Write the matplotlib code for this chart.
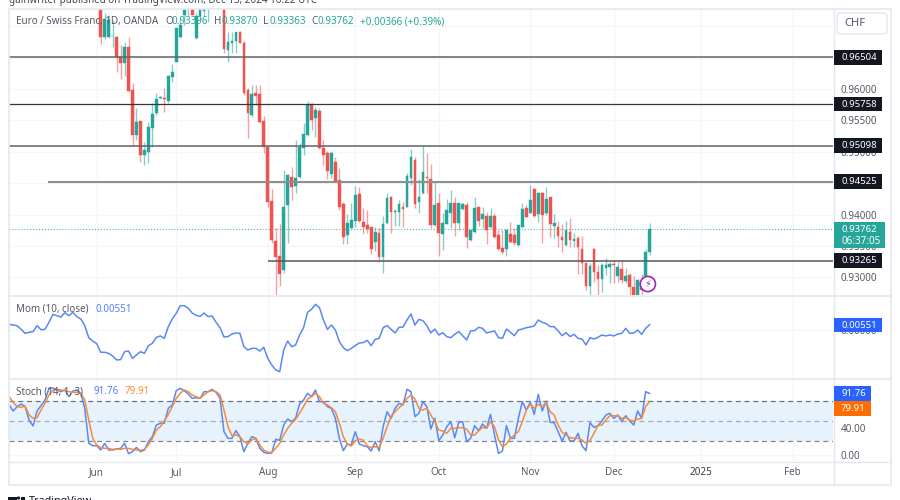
import numpy as np
import matplotlib
matplotlib.use("Agg")
import matplotlib.pyplot as plt
from matplotlib.patches import Rectangle, FancyBboxPatch, Circle

plt.rcParams['font.family'] = ['Noto Sans', 'DejaVu Sans']

opens = [.9740,.9683,.9683,.9684,.9683,.9651,.9641,.9667,.9598,.9527,
         .9549,.9495,.9500,.9538,.9562,.9586,.9586,.9581,.9619,.9643,
         .9683,.9718,.9730,.9732,.9681,.9716,.9725,.9730,.9750,.9755,
         .9750,.9745,.9662,.9673,.9676,.9691,.9673,.9598,.9559,.9594,
         .9592,.9549,.9508,.9422,.9358,.9334,.9312,.9415,.9460,.9445,
         .9460,.9506,.9527,.9576,.9554,.9565,.9506,.9498,.9465,.9484,
         .9455,.9417,.9367,.9378,.9390,.9433,.9388,.9383,.9380,.9356,
         .9370,.9332,.9386,.9428,.9404,.9404,.9412,.9412,.9458,.9487,
         .9420,.9434,.9460,.9457,.9383,.9418,.9369,.9385,.9402,.9418,
         .9386,.9409,.9415,.9359,.9372,.9412,.9393,.9398,.9380,.9398,
         .9367,.9347,.9345,.9369,.9367,.9351,.9380,.9410,.9402,.9441,
         .9401,.9434,.9402,.9428,.9382,.9380,.9364,.9351,.9372,.9358,
         .9363,.9345,.9323,.9286,.9345,.9309,.9297,.9315,.9316,.9321,
         .9302,.9313,.9294,.9304,.9285,.9272,.9291,.9302,.93396]
highs = [.9750,.9721,.9718,.9710,.9685,.9670,.9675,.9683,.9610,.9570,
         .9549,.9516,.9547,.9578,.9594,.9589,.9602,.9622,.9640,.9697,
         .9710,.9735,.9745,.9745,.9721,.9740,.9740,.9745,.9760,.9765,
         .9760,.9750,.9691,.9691,.9691,.9693,.9676,.9602,.9606,.9606,
         .9606,.9557,.9509,.9441,.9378,.9385,.9471,.9465,.9476,.9519,
         .9514,.9546,.9581,.9578,.9571,.9570,.9519,.9501,.9501,.9492,
         .9474,.9420,.9401,.9418,.9445,.9444,.9410,.9407,.9380,.9380,
         .9378,.9398,.9434,.9430,.9409,.9423,.9420,.9466,.9504,.9492,
         .9457,.9509,.9498,.9480,.9452,.9434,.9402,.9425,.9439,.9428,
         .9418,.9418,.9420,.9375,.9428,.9412,.9412,.9404,.9410,.9402,
         .9375,.9375,.9375,.9388,.9378,.9383,.9418,.9415,.9447,.9442,
         .9436,.9436,.9444,.9428,.9401,.9390,.9385,.9390,.9394,.9370,
         .9366,.9366,.9323,.9323,.9347,.9320,.9323,.9331,.9324,.9328,
         .9324,.9326,.9315,.9307,.9302,.9297,.9305,.9345,.93870]
lows = [.9672,.9680,.9681,.9667,.9627,.9616,.9621,.9595,.9509,.9519,
        .9484,.9479,.9482,.9508,.9559,.9584,.9563,.9578,.9611,.9643,
        .9681,.9702,.9718,.9718,.9680,.9710,.9716,.9707,.9740,.9745,
        .9735,.9657,.9643,.9657,.9657,.9673,.9590,.9522,.9555,.9575,
        .9546,.9498,.9412,.9355,.9272,.9286,.9307,.9355,.9423,.9434,
        .9458,.9495,.9525,.9535,.9523,.9504,.9479,.9457,.9458,.9452,
        .9407,.9353,.9353,.9378,.9380,.9388,.9369,.9370,.9337,.9342,
        .9324,.9307,.9385,.9370,.9382,.9382,.9380,.9412,.9447,.9410,
        .9402,.9433,.9434,.9378,.9382,.9334,.9343,.9385,.9378,.9366,
        .9375,.9407,.9347,.9358,.9370,.9382,.9378,.9353,.9378,.9363,
        .9343,.9337,.9334,.9355,.9351,.9350,.9380,.9396,.9402,.9396,
        .9388,.9355,.9399,.9364,.9363,.9348,.9340,.9350,.9348,.9348,
        .9305,.9305,.9280,.9272,.9293,.9272,.9277,.9304,.9291,.9291,
        .9293,.9291,.9291,.9272,.9270,.9270,.9270,.9300,.93363]
closes = [.9683,.9711,.9710,.9685,.9651,.9641,.9667,.9597,.9527,.9547,
          .9495,.9503,.9539,.9560,.9584,.9587,.9584,.9621,.9627,.9697,
          .9702,.9726,.9740,.9718,.9716,.9735,.9735,.9740,.9755,.9750,
          .9745,.9664,.9675,.9676,.9691,.9673,.9594,.9562,.9592,.9589,
          .9547,.9508,.9420,.9359,.9332,.9305,.9412,.9463,.9444,.9458,
          .9508,.9528,.9575,.9551,.9567,.9506,.9495,.9469,.9498,.9453,
          .9412,.9364,.9386,.9391,.9431,.9390,.9380,.9377,.9345,.9372,
          .9332,.9385,.9426,.9404,.9405,.9417,.9409,.9461,.9492,.9417,
          .9428,.9468,.9458,.9383,.9415,.9370,.9386,.9407,.9418,.9386,
          .9418,.9417,.9364,.9375,.9410,.9390,.9401,.9375,.9398,.9364,
          .9345,.9340,.9375,.9356,.9355,.9383,.9409,.9396,.9423,.9398,
          .9434,.9399,.9425,.9385,.9386,.9366,.9359,.9375,.9359,.9361,
          .9348,.9323,.9286,.9318,.9309,.9297,.9320,.9320,.9321,.9320,
          .9316,.9296,.9302,.9285,.9272,.9296,.9280,.9340,.93762]

mom = [.0059,.0052,.0045,.0007,-.0035,-.0024,-.0017,.0045,.0003,.0007,.0080,.0163,.0149,.0135,.0180,.0149,.0184,.0139,.0115,.0045,-.0080,-.0115,-.0142,
       -.0232,-.0232,-.0243,-.0271,-.0312,-.0309,-.0226,-.0219,-.0295,-.0260,-.0226,-.0243,-.0163,-.0139,-.0076,-.0062,-.0087,.0035,.0115,.0174,.0253,.0253,
       .0226,.0177,.0153,.0142,.0177,.0139,.0146,.0080,.0024,-.0073,-.0069,-.0042,-.0031,-.0035,-.0174,-.0208,-.0191,-.0191,-.0219,-.0180,-.0295,-.0364,-.0416,-.0434,
       -.0208,-.0115,-.0174,-.0156,-.0052,.0024,.0184,.0215,.0267,.0232,.0104,.0007,.0052,0,-.0121,-.0184,-.0215,-.0191,-.0163,-.0135,-.0132,-.0108,-.0163,-.0097,-.0087,
       .0024,.0045,.0007,-.0031,.0028,.0031,.0104,.0167,.0052,.0111,.0097,.0045,-.0031,.0010,-.0052,-.0028,-.0069,
       -.0080,-.0045,-.0017,-.0059,-.0104,-.0010,-.0007,.0028,.0017,-.0031,-.0021,-.0010,-.0080,-.0087,.0010,-.0024,-.0059,0,.0010,.0024,.0031,.0042,.0104,.0080,.0066,
       .0035,.0035,-.0010,-.0059,-.0028,-.0069,-.0045,-.0087,-.0094,-.0156,-.0080,-.0094,-.0076,-.0052,-.0062,-.0052,-.0062,-.0042,-.0035,.0017,-.0035,-.0031,0,-.0045,.0017,.00551]

stoch_k = [74.5,65.5,72,76,72,52,43,65.5,73.5,82,99.5,100,97,94.5,97,87,95.5,97,92,69.5,17,13.5,13.5,
           7,17,7,7,8.5,9.5,17,1.5,4.5,11,4.5,7,19.5,27,44.5,47,47,69.5,74.5,96,99.5,96,91,84.5,85.5,84.5,94.5,94.5,98,93.5,84.5,
           34.5,24.5,24.5,36,27,4.5,17,27,24.5,9.5,3.5,2,2.5,23,21.5,44.5,53.5,49.5,54.5,76,82,92,87,97,79.5,79.5,72,69.5,54.5,24.5,
           6,16,14.5,34.5,16,13.5,12,5.5,19.5,5.5,42,64.5,54.5,69.5,77,74.5,98,94.5,57,62,79.5,72,38.5,54.5,21,29.5,42,
           49.5,25.5,48.5,49.5,19.5,24.5,43.5,36,46,39.5,60.5,29.5,2,5.5,43.5,24.5,24.5,54.5,79.5,67,78.5,60.5,90.5,65.5,80.5,48.5,48,
           34.5,20.5,33.5,20.5,20.5,32,13.5,6,48,41,43.5,50.5,59.5,62,54.5,59.5,49.5,58.5,50.5,44.5,65.5,54.5,94.5,91.76]
stoch_d = [87,78.5,72,71,73,59.5,54.5,55.5,67,77,89.5,97,98,97,96,94.5,93.5,93.5,92,82,52,24.5,14.5,
           10.5,9.5,9.5,8,8.5,8,9.5,9.5,8,7,6.5,8,14.5,24.5,37,42,50.5,60.5,72,84.5,92,97,94.5,89.5,87,84.5,89.5,94.5,96,94.5,89.5,
           67,42,28.5,29.5,27,19.5,16,22,24.5,14.5,7,3.5,3.5,9.5,17,29.5,39.5,47,53,62,72,83.5,87,92,87,77,74.5,70.5,64.5,47,
           27,16,13,21,23.5,22,13.5,10.5,12,10.5,24.5,42,57,64.5,70.5,75.5,84.5,89.5,83.5,69.5,67,69.5,59.5,49.5,37,35.5,32,
           39.5,39.5,40.5,40.5,38.5,29.5,29.5,35.5,41,39.5,49.5,42,22,12,16,24.5,29.5,34.5,49.5,67,75.5,69.5,75.5,72,78.5,64.5,59.5,
           44.5,33.5,29.5,25.5,24.5,24.5,22,17,21,32,43.5,44.5,52,58.5,58.5,58.5,54.5,56,52,50.5,53.5,54.5,72,79.91]

levels = [0.96504, 0.95758, 0.95098, 0.94525, 0.93265]
level_start = [-22.05, -22.05, -22.05, -12.2, 43]
level_color = ['#5f6268', '#33353f', '#5f6268', '#8f9094', '#55575e']
level_width = [1.1, 0.9, 1.1, 1.5, 1.1]
price_ticks = [0.970, 0.965, 0.960, 0.955, 0.950, 0.945, 0.940, 0.935, 0.930]
month_bars = [0, 20, 43, 65, 86, 109, 130, 152, 175]
month_labels = ['Jun', 'Jul', 'Aug', 'Sep', 'Oct', 'Nov', 'Dec', '2025', 'Feb']

GREEN = '#26a69a'
RED = '#ef5350'
BLUE = '#5b87f5'
ORANGE = '#f58b3c'
GRID = '#f3f5f9'
BORDER = '#e4e7f0'
TXT = '#555863'
FS = 7.1

W, H = 900, 500
fig = plt.figure(figsize=(9, 5), dpi=100, facecolor='white')


def pane(top, bottom):
    ax = fig.add_axes([9 / W, 1 - bottom / H, 824 / W, (bottom - top) / H])
    ax.set_xlim(-22.05, 185.1)
    ax.set_xticks(month_bars)
    ax.grid(True, color=GRID, lw=1)
    ax.set_axisbelow(True)
    ax.tick_params(length=0, labelbottom=False, left=False, labelleft=False)
    for s in ax.spines.values():
        s.set_visible(False)
    return ax


ax_p = pane(9, 295)
ax_m = pane(296, 378)
ax_s = pane(380, 461)

# candles
bars = np.arange(1, 140)
o, h, l, c = map(np.array, (opens, highs, lows, closes))
up = c >= o
colors = np.where(up, GREEN, RED)
ax_p.vlines(bars, l, h, colors=list(colors), lw=1, alpha=0.55, zorder=3)
ax_p.bar(bars, np.abs(c - o), bottom=np.minimum(o, c), width=0.68, color=list(colors),
         edgecolor=list(colors), lw=0.3, zorder=4)
for lv, st, col, lw in zip(levels, level_start, level_color, level_width):
    ax_p.hlines(lv, st, 185.1, color=col, lw=lw, zorder=5)
ax_p.axhline(c[-1], color=GREEN, ls=':', lw=0.8, alpha=0.8, zorder=2)
ax_p.set_ylim(0.92718, 0.97275)
ax_p.yaxis.tick_right()
ax_p.set_yticks(price_ticks)
ax_p.set_yticklabels(['%.5f' % t for t in price_ticks], fontsize=FS, color=TXT)
ax_p.tick_params(axis='y', right=False, labelright=True, pad=5.5)

# momentum
ax_m.plot(np.arange(-22, 140), mom, color=BLUE, lw=1.1)
ax_m.set_ylim(-0.050, 0.0354)
ax_m.yaxis.tick_right()
ax_m.set_yticks([0])
ax_m.set_yticklabels(['0.00000'], fontsize=FS, color=TXT)
ax_m.tick_params(axis='y', right=False, labelright=True, pad=5.5)

# stochastic
ax_s.axhspan(20, 80, color='#e7f3fc', lw=0, zorder=1)
ax_s.axhline(80, color='#6e7078', ls=(0, (4, 3)), lw=0.9, zorder=2)
ax_s.axhline(50, color='#a8aab0', ls=(0, (4, 3)), lw=0.9, zorder=2)
ax_s.axhline(20, color='#85878e', ls=(0, (4, 3)), lw=0.9, zorder=2)
ax_s.plot(np.arange(-22, 140), stoch_k, color=BLUE, lw=1.1, zorder=3)
ax_s.plot(np.arange(-22, 140), stoch_d, color=ORANGE, lw=1.1, zorder=4)
ax_s.set_ylim(-9.5, 112)
ax_s.yaxis.tick_right()
ax_s.set_yticks([0, 40])
ax_s.set_yticklabels(['0.00', '40.00'], fontsize=FS, color=TXT)
ax_s.tick_params(axis='y', right=False, labelright=True, pad=5.5)
ax_s.set_xticklabels(month_labels, fontsize=FS, color=TXT)
ax_s.tick_params(axis='x', labelbottom=True, pad=4.5)
ax_s.get_xticklabels()[7].set_fontweight('bold')
ax_s.get_xticklabels()[7].set_color('#3a3d46')

# overlay in image pixels for the chrome around the panes
ov = fig.add_axes([0, 0, 1, 1], zorder=20, facecolor='none')
ov.set_xlim(0, W)
ov.set_ylim(H, 0)
ov.axis('off')


def ypix(ax, v):
    return H - ax.transData.transform((0, v))[1]


def tag(ax, v, label, col, right=882, top=None, bottom=None):
    y = ypix(ax, v)
    top = y - 7.2 if top is None else top
    bottom = y + 7.2 if bottom is None else bottom
    ov.add_patch(Rectangle((833.5, top), right - 833.5, bottom - top, color=col, lw=0, zorder=3))
    ov.text(841, (top + bottom) / 2, label, color='white', fontsize=6.9, fontweight='bold',
            va='center', ha='left', zorder=4)


for lv in levels:
    tag(ax_p, lv, '%.5f' % lv, '#131722')
ov.add_patch(Rectangle((833.5, 222), 51.5, 26, color=GREEN, lw=0, zorder=3))
ov.text(841, 229.3, '0.93762', color='white', fontsize=6.9, fontweight='bold', va='center', zorder=4)
ov.text(841, 241, '06:37:05', color='white', fontsize=FS, va='center', zorder=4)
tag(ax_m, 0.00551, '0.00551', '#2962ff', top=317.7, bottom=332.3)
tag(ax_s, 91.76, '91.76', '#2962ff', right=871, top=386.3, bottom=401)
tag(ax_s, 79.91, '79.91', '#ff6d00', right=871, top=401, bottom=415.5)

# frame and separators
ov.add_patch(Rectangle((8.5, 8.5), 882.5, 476.5, fill=False, ec=BORDER, lw=1.2, zorder=1))
ov.plot([833.5, 833.5], [8.5, 485], color=BORDER, lw=1, zorder=1)
ov.plot([8.5, 891], [295.5, 295.5], color=BORDER, lw=1.2, zorder=1)
ov.plot([8.5, 891], [378.5, 378.5], color=BORDER, lw=1.2, zorder=1)
ov.plot([8.5, 891], [461.5, 461.5], color=BORDER, lw=1, zorder=1)

ov.add_patch(FancyBboxPatch((837, 13), 50, 21, boxstyle='round,pad=0,rounding_size=3',
                            fc='white', ec=BORDER, lw=1, zorder=3))
ov.text(844, 23.5, 'CHF', color=TXT, fontsize=8, va='center', zorder=4)

# header legend
ov.text(15.5, 21.5, 'Euro / Swiss Franc, 1D, OANDA', color=TXT, fontsize=FS, va='center')
for x, s, col in [(165, 'O', TXT), (172, '0.93396', GREEN), (214, 'H', TXT), (221, '0.93870', GREEN),
                  (263, 'L', TXT), (269, '0.93363', GREEN), (311, 'C', TXT), (318, '0.93762', GREEN),
                  (360, '+0.00366 (+0.39%)', GREEN)]:
    ov.text(x, 21.5, s, color=col, fontsize=FS, va='center')
ov.text(15.5, 309, 'Mom (10, close)', color=TXT, fontsize=FS, va='center')
ov.text(95, 309, '0.00551', color='#2962ff', fontsize=FS, va='center', alpha=0.8)
ov.text(15.5, 392, 'Stoch (14, 1, 3)', color=TXT, fontsize=FS, va='center')
ov.text(94, 392, '91.76', color='#2962ff', fontsize=FS, va='center', alpha=0.8)
ov.text(125, 392, '79.91', color='#ff6d00', fontsize=FS, va='center', alpha=0.8)

# top and bottom credits, cut by the image edge as in the source
ov.text(9, 0, 'gainwriter published on TradingView.com, Dec 13, 2024 16:22 UTC', color='#444750',
        fontsize=7.1, va='center', clip_on=False)
ov.add_patch(Rectangle((8, 496.5), 8.5, 5, color='#131722', lw=0))
ov.add_patch(Circle((18.5, 498), 1.6, color='#131722', lw=0))
ov.add_patch(Rectangle((21, 496.5), 4, 5, color='#131722', lw=0))
ov.text(29, 501.5, 'TradingView', color='#131722', fontsize=7.8, va='center', clip_on=False)

# alert badge
bx, by = 9 + (137.8 + 22.05) / 207.15 * 824 + 3, 284
ov.add_patch(Circle((bx, by), 7.6, fc='white', ec='#9c27b0', lw=1.2, zorder=6))
ov.text(bx, by, '\u26a1', color='#9c27b0', fontsize=7, ha='center', va='center', zorder=7,
        family=['DejaVu Sans'])

fig.savefig('out.png', dpi=100)
